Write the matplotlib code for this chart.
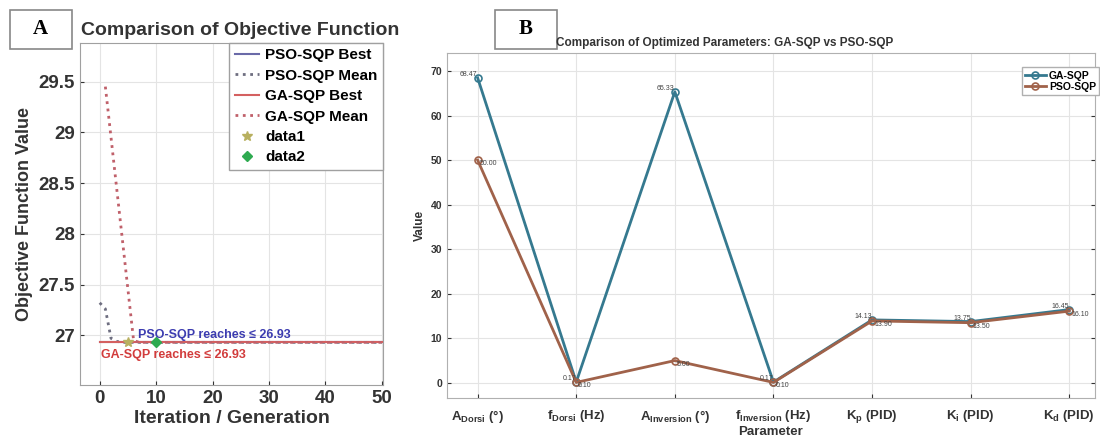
import numpy as np
import matplotlib.pyplot as plt
from matplotlib.patches import Rectangle
from matplotlib.ticker import FuncFormatter

plt.rcParams.update(
    {
        "font.family": ["Liberation Sans", "DejaVu Sans"],
        "font.weight": "bold",
        "axes.labelweight": "bold",
        "axes.titleweight": "bold",
        "mathtext.default": "regular",
    }
)

# ---- panel A data ----
iters = np.arange(0, 51)
best_value = 26.93
pso_mean_head = [27.32, 27.26, 26.97, 26.94]
ga_mean_head = [29.45, 28.95, 28.45, 27.95, 27.45, 26.95]
ga_mean_start = 1
data1 = (5, 26.93)
data2 = (10, 26.93)

# ---- panel B data ----
params = [
    r"A$_{Dorsi}$ (°)",
    r"f$_{Dorsi}$ (Hz)",
    r"A$_{Inversion}$ (°)",
    r"f$_{Inversion}$ (Hz)",
    r"K$_p$ (PID)",
    r"K$_i$ (PID)",
    r"K$_d$ (PID)",
]
ga_sqp = [68.47, 0.17, 65.33, 0.17, 14.13, 13.75, 16.45]
pso_sqp = [50.00, 0.10, 5.00, 0.10, 13.90, 13.50, 16.10]

fig = plt.figure(figsize=(11, 4.41), dpi=100)

# ================= panel A =================
axA = fig.add_axes([0.0727, 0.127, 0.2755, 0.7755])

pso_mean = np.full(len(iters), best_value)
pso_mean[: len(pso_mean_head)] = pso_mean_head
ga_x = np.arange(ga_mean_start, 51)
ga_mean = np.full(len(ga_x), best_value)
ga_mean[: len(ga_mean_head)] = ga_mean_head

axA.plot(iters, np.full(len(iters), best_value), "-", color="#6a6aa8", lw=1.5,
         label="PSO-SQP Best")
axA.plot(iters, pso_mean, ":", color="#6e6e80", lw=2, label="PSO-SQP Mean")
axA.plot(iters, np.full(len(iters), best_value), "-", color="#d46060", lw=1.5,
         label="GA-SQP Best")
axA.plot(ga_x, ga_mean, ":", color="#c0606a", lw=2, label="GA-SQP Mean")
axA.plot(*data1, "*", color="#b8b060", ms=7, label="data1")
axA.plot(*data2, "D", color="#2eaa50", ms=5, label="data2")

axA.text(6.8, 27.0, "PSO-SQP reaches \u2264 26.93", color="#3c3cb0",
         fontsize=9, va="center", ha="left")
axA.text(0.2, 26.81, "GA-SQP reaches \u2264 26.93", color="#d23c3c",
         fontsize=9, va="center", ha="left")

axA.set_xlim(-3.5, 50.2)
axA.set_ylim(26.51, 29.88)
axA.set_xticks([0, 10, 20, 30, 40, 50])
axA.set_yticks([27, 27.5, 28, 28.5, 29, 29.5])
axA.yaxis.set_major_formatter(FuncFormatter(lambda v, p: f"{v:g}"))
axA.tick_params(labelsize=13.5, direction="in", colors="#333333", length=3)
axA.grid(True, color="#e4e4e4", lw=0.8)
for s in axA.spines.values():
    s.set_color("#a0a0a0")
axA.set_xlabel("Iteration / Generation", fontsize=14, color="#333333",
               labelpad=2)
axA.set_ylabel("Objective Function Value", fontsize=13, color="#333333")
fig.text(0.218, 0.93, "Comparison of Objective Function", fontsize=14,
         fontweight="bold", ha="center", va="center", color="#333333")
axA.legend(loc="upper right", fontsize=11, handlelength=1.6,
           handletextpad=0.4, borderpad=0.35, labelspacing=0.42,
           fancybox=False, framealpha=1, edgecolor="#a0a0a0",
           borderaxespad=0.0)

# ================= panel B =================
axB = fig.add_axes([0.4064, 0.0975, 0.589, 0.782])
xs = np.arange(1, len(params) + 1)
ga_color = "#35798f"
pso_color = "#a0624a"
axB.plot(xs, ga_sqp, "-o", color=ga_color, lw=2, ms=5, mfc="none",
         mew=1.2, label="GA-SQP")
axB.plot(xs, pso_sqp, "-o", color=pso_color, lw=2, ms=5, mfc="none",
         mew=1.2, label="PSO-SQP")
for x, v in zip(xs, ga_sqp):
    axB.text(x, v, f"{v:.2f}", fontsize=5, ha="right", va="bottom",
             color="#444444", fontweight="normal")
for x, v in zip(xs, pso_sqp):
    axB.text(x + 0.02, v, f"{v:.2f}", fontsize=5, ha="left", va="top",
             color="#444444", fontweight="normal")

axB.set_xlim(0.69, 7.26)
axB.set_ylim(-3.4, 74)
axB.set_xticks(xs)
axB.set_xticklabels(params)
axB.set_yticks(np.arange(0, 71, 10))
axB.tick_params(axis="x", labelsize=9.5, direction="in", colors="#333333",
                length=3, pad=7)
axB.tick_params(axis="y", labelsize=7.5, direction="in", colors="#333333",
                length=3, right=True)
axB.grid(True, color="#e4e4e4", lw=0.8)
for s in axB.spines.values():
    s.set_color("#b0b0b0")
axB.set_xlabel("Parameter", fontsize=9.5, color="#333333", labelpad=1)
axB.set_ylabel("Value", fontsize=8.5, color="#333333", labelpad=3)
fig.text(0.659, 0.903, "Comparison of Optimized Parameters: GA-SQP vs PSO-SQP",
         fontsize=8.5, fontweight="bold", ha="center", va="center",
         color="#333333")
axB.legend(loc="upper right", bbox_to_anchor=(1.004, 0.859),
           bbox_transform=fig.transFigure, fontsize=7.5,
           handlelength=2.0, handletextpad=0.3, borderpad=0.3,
           labelspacing=0.15, fancybox=False, framealpha=1,
           edgecolor="#b0b0b0")

# ---- panel letters ----
for x0, letter in [(0.009, "A"), (0.45, "B")]:
    fig.patches.append(Rectangle((x0, 0.89), 0.056, 0.088,
                                 transform=fig.transFigure, fill=False,
                                 edgecolor="#888888", lw=1.2))
    fig.text(x0 + 0.028, 0.934, letter, fontsize=15, fontweight="bold",
             family="Liberation Serif", ha="center", va="center")

fig.savefig("out.png", dpi=100)
